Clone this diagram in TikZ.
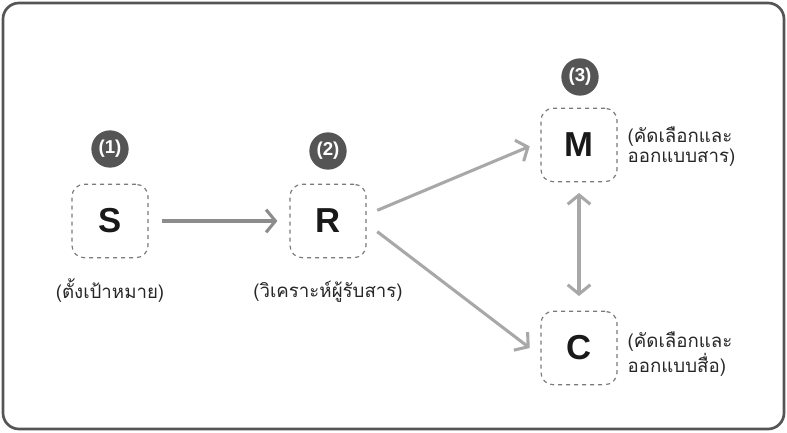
\documentclass[tikz,border=0pt]{standalone}
\usepackage{fontspec}
\setmainfont{Liberation Sans}
\newfontfamily\thaifont[Script=Thai]{Loma}
\usepackage{xcolor}
\usetikzlibrary{arrows.meta, positioning}

\definecolor{framegray}{HTML}{555555}
\definecolor{badgegray}{HTML}{555555}
\definecolor{dashgray}{HTML}{7A7A7A}
\definecolor{linkgray}{HTML}{A8A8A8}
\definecolor{maingray}{HTML}{8C8C8C}

\begin{document}
\begin{tikzpicture}[
        x=0.75pt, y=-0.75pt,
        % Define styles for the nodes
        letter_box/.style={rectangle, draw=dashgray, dashed, line width=0.9pt, minimum width=57pt, minimum height=55pt, rounded corners=9pt, font=\fontsize{26}{28}\selectfont\bfseries, text=black!90},
        step_badge/.style={circle, fill=badgegray, minimum size=28pt, inner sep=0pt, text=white, font=\fontsize{14}{16}\selectfont\bfseries},
        note_text/.style={align=left, font=\thaifont\fontsize{14}{15}\selectfont, text=black!85},
        % Styles for arrows
        arrow_link/.style={draw=linkgray, line width=2.3pt, -{Straight Barb[length=7pt, width=17pt, line width=2.3pt]}},
        both_link/.style={arrow_link, {Straight Barb[length=7pt, width=17pt, line width=2.3pt]}-{Straight Barb[length=7pt, width=17pt, line width=2.3pt]}}
    ]

    \useasboundingbox (0,0) rectangle (787,432);

    % =========================================================================
    % FRAME
    % =========================================================================
    \draw[framegray, line width=2pt, rounded corners=12pt] (3,3) rectangle (784,429);

    % =========================================================================
    % MAIN FLOW - S, R
    % =========================================================================
    \node (s_box) [letter_box] at (110,221) {S};
    \node (s_badge) [step_badge] at (110,149) {(1)};
    \node (s_note) [note_text] at (110,291) {(ตั้งเป้าหมาย)};

    \node (r_box) [letter_box] at (328,221) {R};
    \node (r_badge) [step_badge] at (328,151) {(2)};
    \node (r_note) [note_text] at (328,292) {(วิเคราะห์ผู้รับสาร)};

    % =========================================================================
    % MAIN FLOW - M, C
    % =========================================================================
    \node (m_box) [letter_box] at (579,145) {M};
    \node (m_badge) [step_badge] at (580,77) {(3)};
    \node (m_note) [note_text, anchor=west] at (623,147) {(คัดเลือกและ\\ออกแบบสาร)};

    \node (c_box) [letter_box] at (579,348) {C};
    \node (c_note) [note_text, anchor=west] at (623,354) {(คัดเลือกและ\\ออกแบบสื่อ)};

    % Connectors
    \draw [arrow_link, draw=maingray] ([xshift=10pt]s_box.east) -- ([xshift=-9pt]r_box.west);
    \draw [arrow_link] ([xshift=8pt, yshift=8pt]r_box.east) -- ([xshift=-8pt, yshift=-1pt]m_box.west);
    \draw [arrow_link] ([xshift=8pt, yshift=-8pt]r_box.east) -- ([xshift=-8pt]c_box.west);
    \draw [both_link] ([yshift=-8pt]m_box.south) -- ([yshift=11pt]c_box.north);

\end{tikzpicture}
\end{document}
